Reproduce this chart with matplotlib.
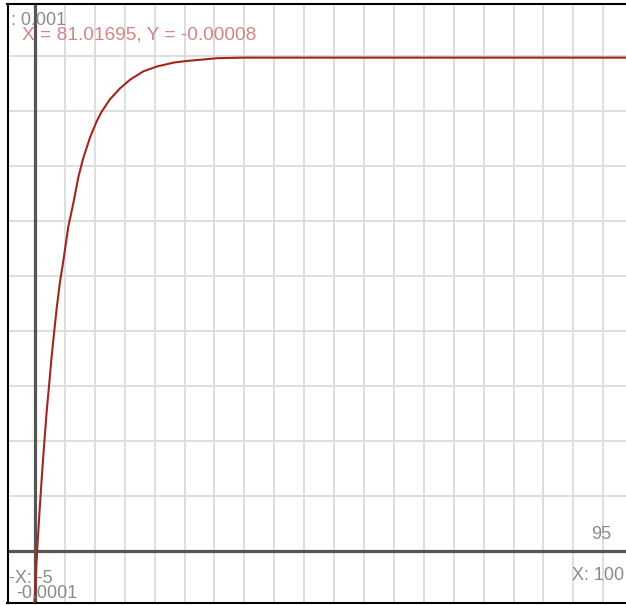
import matplotlib
matplotlib.use("Agg")
import matplotlib.pyplot as plt

# curve (x, y)
curve_x = [-0.1, 0.35, 0.8, 1.12, 1.5, 1.96, 2.34, 2.79, 3.18, 3.63, 4.18,
           4.63, 5.02, 5.57, 6.4, 7.25, 8.08, 9.2, 10.3, 11.1, 12.5, 14.2,
           15.9, 18.1, 20.4, 23.2, 25.4, 28.5, 30.5, 35, 100]
curve_y = [-0.95, 0.0, 0.8, 1.32, 1.9, 2.55, 3.0, 3.55, 3.96, 4.42, 4.9,
           5.2, 5.49, 5.9, 6.32, 6.8, 7.15, 7.52, 7.81, 7.98, 8.21, 8.41,
           8.57, 8.72, 8.81, 8.88, 8.91, 8.94, 8.96, 8.97, 8.97]
curve_y = [v * 1e-4 for v in curve_y]

grid_x = list(range(-5, 101, 5))
grid_y = [i * 1e-4 for i in range(-1, 11)]

W, H = 626, 605
plt.rcParams['font.family'] = ['Liberation Sans', 'DejaVu Sans']

fig = plt.figure(figsize=(W / 100, H / 100), dpi=100)
# axes box in pixels: left 7.5, top 4, bottom 603, right past the image edge
ax = fig.add_axes([7.5 / W, 2 / H, (W - 7.5) / W, 599 / H])
ax.set_xlim(-4.6, 98.8)
ax.set_ylim(-0.0000945, 0.0009945)

for gx in grid_x:
    ax.axvline(gx, color='#dedede', lw=1.4, zorder=1)
for gy in grid_y:
    ax.axhline(gy, color='#dedede', lw=1.4, zorder=1)

ax.axvline(0, color='#555555', lw=2.3, zorder=2)
ax.axhline(0, color='#555555', lw=2.3, zorder=2)

ax.plot(curve_x, curve_y, color='#a3261e', lw=1.5, zorder=3)

ax.set_xticks([])
ax.set_yticks([])
for side in ['left', 'top', 'bottom']:
    ax.spines[side].set_color('black')
    ax.spines[side].set_linewidth(1.5)
ax.spines['right'].set_visible(False)


def px_text(x, y, s, color, size=13):
    fig.text(x / W, 1 - y / H, s, color=color, fontsize=size,
             ha='left', va='baseline', zorder=5)


gray = '#8a8a8a'
px_text(11, 25, ': 0.001', gray)
px_text(22, 39, 'X = 81.01695, Y = -0.00008', '#d48484', 13.8)
px_text(9, 583, '-X: -5', gray)
px_text(16, 598, '-0.0001', gray)
px_text(591, 539, '95', gray)
px_text(572, 580, 'X: 100', gray)

fig.savefig('out.png', dpi=100)
